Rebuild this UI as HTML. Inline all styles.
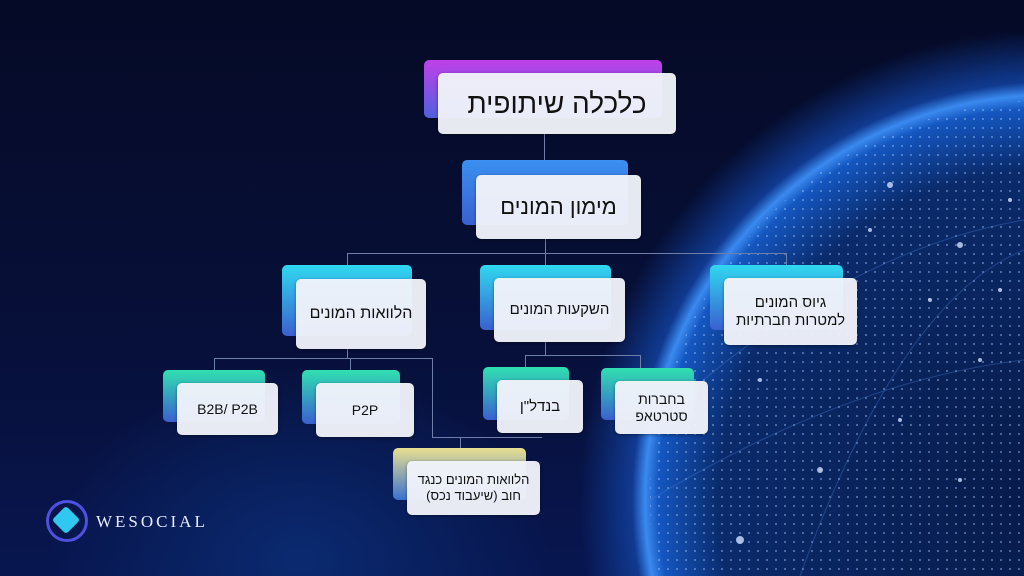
<!DOCTYPE html><html><head><meta charset="utf-8"><style>
body{margin:0;width:1024px;height:576px;overflow:hidden;font-family:"Liberation Sans","Noto Sans CJK SC",sans-serif}
#bg{position:absolute;left:0;top:0;width:1024px;height:576px;
background:radial-gradient(circle at 1050px 500px,#071a48 0,#0a2a6a 330px,#1456c0 392px,#3a8af0 405px,#103a90 418px,rgba(6,16,60,0) 470px),radial-gradient(ellipse at 300px 560px,#0a2a70 0,rgba(5,10,40,0) 250px),linear-gradient(180deg,#050a26 0%,#07103a 60%,#081650 100%);}
.b{position:absolute;border-radius:5px}
.f{position:absolute;border-radius:5px;background:rgba(240,242,250,.96);box-shadow:0 1px 3px rgba(0,0,0,.4);display:flex;align-items:center;justify-content:center;text-align:center;color:#111;direction:rtl;line-height:1.2}
.l{position:absolute;background:#6f7ea8}
</style></head><body><div id="bg"></div>
<svg style="position:absolute;left:0;top:0" width="1024" height="576">
<defs><pattern id="d" width="9" height="9" patternUnits="userSpaceOnUse"><circle cx="2" cy="2" r="1.1" fill="#a8c8ff"/></pattern>
<clipPath id="c"><circle cx="1050" cy="500" r="400"/></clipPath></defs>
<g clip-path="url(#c)"><rect x="640" y="90" width="400" height="490" fill="url(#d)" opacity=".45"/></g>
<g fill="#cfe0ff" opacity=".8">
<circle cx="890" cy="185" r="3"/><circle cx="960" cy="245" r="3"/><circle cx="1000" cy="290" r="2"/><circle cx="930" cy="300" r="2"/><circle cx="870" cy="230" r="2"/><circle cx="980" cy="360" r="2"/><circle cx="760" cy="380" r="2"/><circle cx="820" cy="470" r="3"/><circle cx="900" cy="420" r="2"/><circle cx="740" cy="540" r="4"/><circle cx="960" cy="480" r="2"/><circle cx="1010" cy="200" r="2"/>
</g>
<g stroke="#4f86e0" stroke-width="1" opacity=".35" fill="none"><path d="M680 400 Q850 250 1024 220"/><path d="M650 500 Q850 380 1024 360"/><path d="M800 576 Q900 300 1024 250"/></g>
</svg>
<div class="l" style="left:544px;top:134px;width:1px;height:41px"></div>
<div class="l" style="left:545px;top:239px;width:1px;height:39px"></div>
<div class="l" style="left:347px;top:253px;width:440px;height:1px"></div>
<div class="l" style="left:347px;top:253px;width:1px;height:26px"></div>
<div class="l" style="left:786px;top:253px;width:1px;height:25px"></div>
<div class="l" style="left:347px;top:349px;width:1px;height:10px"></div>
<div class="l" style="left:214px;top:358px;width:218px;height:1px"></div>
<div class="l" style="left:214px;top:358px;width:1px;height:12px"></div>
<div class="l" style="left:350px;top:358px;width:1px;height:12px"></div>
<div class="l" style="left:432px;top:358px;width:1px;height:79px"></div>
<div class="l" style="left:432px;top:437px;width:110px;height:1px"></div>
<div class="l" style="left:460px;top:437px;width:1px;height:11px"></div>
<div class="l" style="left:545px;top:342px;width:1px;height:13px"></div>
<div class="l" style="left:525px;top:355px;width:115px;height:1px"></div>
<div class="l" style="left:525px;top:355px;width:1px;height:12px"></div>
<div class="l" style="left:640px;top:355px;width:1px;height:13px"></div>

<div class="b" style="left:424px;top:60px;width:238px;height:58px;background:linear-gradient(#c040e8,#5060e0)"></div>
<div class="f" style="left:438px;top:73px;width:238px;height:61px;font-size:28px">כלכלה שיתופית</div>
<div class="b" style="left:462px;top:160px;width:166px;height:65px;background:linear-gradient(#3a90f0,#3a60d0)"></div>
<div class="f" style="left:476px;top:175px;width:165px;height:64px;font-size:22px">מימון המונים</div>
<div class="b" style="left:282px;top:265px;width:130px;height:71px;background:linear-gradient(#30d8f0,#3a60d0)"></div>
<div class="f" style="left:296px;top:279px;width:130px;height:70px;font-size:16px">הלוואות המונים</div>
<div class="b" style="left:480px;top:265px;width:131px;height:65px;background:linear-gradient(#30d8f0,#3a60d0)"></div>
<div class="f" style="left:494px;top:278px;width:131px;height:64px;font-size:15px">השקעות המונים</div>
<div class="b" style="left:710px;top:265px;width:133px;height:65px;background:linear-gradient(#30d8f0,#3a60d0)"></div>
<div class="f" style="left:724px;top:278px;width:133px;height:67px;font-size:15px">גיוס המונים<br>למטרות חברתיות</div>
<div class="b" style="left:163px;top:370px;width:102px;height:52px;background:linear-gradient(#30e0b0,#3a60d0)"></div>
<div class="f" style="left:177px;top:383px;width:101px;height:52px;font-size:14px;direction:ltr">B2B/ P2B</div>
<div class="b" style="left:302px;top:370px;width:98px;height:54px;background:linear-gradient(#30e0b0,#3a60d0)"></div>
<div class="f" style="left:316px;top:383px;width:98px;height:54px;font-size:14px">P2P</div>
<div class="b" style="left:483px;top:367px;width:86px;height:53px;background:linear-gradient(#30e0b0,#3a60d0)"></div>
<div class="f" style="left:497px;top:380px;width:86px;height:53px;font-size:15px">בנדל"ן</div>
<div class="b" style="left:601px;top:368px;width:93px;height:52px;background:linear-gradient(#30e0b0,#3a60d0)"></div>
<div class="f" style="left:615px;top:381px;width:93px;height:53px;font-size:14px">בחברות<br>סטרטאפ</div>
<div class="b" style="left:393px;top:448px;width:133px;height:52px;background:linear-gradient(#e8e090,#3a70d0)"></div>
<div class="f" style="left:407px;top:461px;width:133px;height:54px;font-size:13px">הלוואות המונים כנגד<br>חוב (שיעבוד נכס)</div>

<div style="position:absolute;left:46px;top:500px;width:42px;height:42px;border-radius:50%;border:3px solid #5050e0;box-sizing:border-box"></div>
<div style="position:absolute;left:56px;top:510px;width:20px;height:20px;background:#30c8f0;transform:rotate(45deg);border-radius:3px"></div>
<div style="position:absolute;left:96px;top:512px;font-size:17px;letter-spacing:3px;color:#e8ecff;font-family:'Liberation Serif',serif">WESOCIAL</div>
</body></html>
